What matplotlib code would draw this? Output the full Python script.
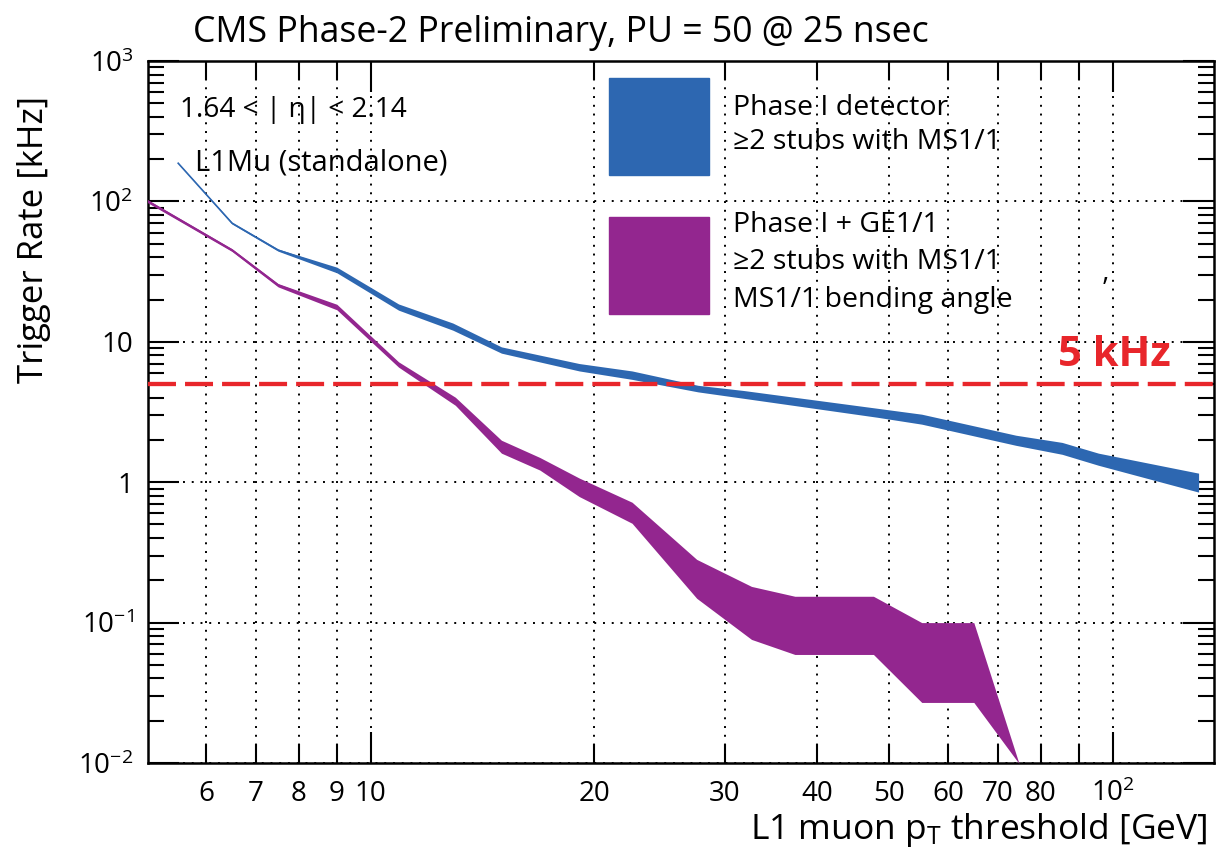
import numpy as np
import matplotlib
matplotlib.use('Agg')
import matplotlib.pyplot as plt
from matplotlib.patches import Rectangle
from matplotlib.ticker import FixedLocator, FixedFormatter, NullFormatter

plt.rcParams['font.family'] = ['Open Sans', 'DejaVu Sans']
plt.rcParams['mathtext.fontset'] = 'custom'
plt.rcParams['mathtext.rm'] = 'Open Sans'
plt.rcParams['mathtext.it'] = 'Open Sans:italic'
plt.rcParams['mathtext.default'] = 'regular'
plt.rcParams['axes.unicode_minus'] = False

# Phase I detector band (rate in kHz vs pT threshold)
blue_x = [5.5, 6.5, 7.5, 9.0, 10.9, 12.9, 15.0, 19.1, 22.5, 27.6, 31.8, 48.2, 55.3, 74.1, 85.5, 95.7, 130.6]
blue_hi = [188, 71, 45.8, 34.0, 18.6, 13.6, 9.2, 7.0, 6.2, 4.9, 4.5, 3.36, 3.05, 2.16, 1.92, 1.61, 1.16]
blue_lo = [186, 69, 44.2, 31.0, 16.8, 12.1, 8.3, 6.2, 5.4, 4.4, 3.96, 2.90, 2.59, 1.83, 1.58, 1.32, 0.85]

# Phase I + GE1/1 band
purple_x = [5.0, 6.5, 7.5, 9.0, 10.9, 13.0, 15.0, 16.9, 19.1, 22.5, 27.5, 32.6, 37.3, 47.6, 55.3, 65.0, 74.8]
purple_hi = [103, 46.0, 26.0, 18.5, 7.2, 4.03, 1.99, 1.50, 1.07, 0.72, 0.282, 0.181, 0.154, 0.154, 0.100, 0.100, 0.0099]
purple_lo = [98, 44.0, 24.6, 16.9, 6.6, 3.53, 1.61, 1.22, 0.79, 0.51, 0.149, 0.0759, 0.0593, 0.0593, 0.027, 0.027, 0.0099]

rate_limit = 5.0

x_ticks = [6, 7, 8, 9, 10, 20, 30, 40, 50, 60, 70, 80, 90, 100]
x_labels = ['6', '7', '8', '9', '10', '20', '30', '40', '50', '60', '70', '80', '', '$10^{2}$']
y_ticks = [0.01, 0.1, 1, 10, 100, 1000]
y_labels = ['$10^{-2}$', '$10^{-1}$', '1', '10', '$10^{2}$', '$10^{3}$']

blue = '#2d67b1'
purple = '#93268f'
red = '#e8262b'

W, H = 1217, 861
fig = plt.figure(figsize=(W / 100, H / 100), dpi=100)
ax = fig.add_axes([147.5 / W, 1 - 763 / H, (1214 - 147.5) / W, (763 - 61) / H])
ax.set_xscale('log')
ax.set_yscale('log')
ax.set_xlim(5, 137)
ax.set_ylim(0.01, 1000)

# bands
ax.fill_between(blue_x, blue_lo, blue_hi, color=blue, lw=0, zorder=3)
ax.plot(blue_x, np.sqrt(np.array(blue_lo) * np.array(blue_hi)), color=blue, lw=1.2, zorder=3)
ax.fill_between(purple_x, purple_lo, purple_hi, color=purple, lw=0, zorder=3)
ax.plot(purple_x[:5], np.sqrt(np.array(purple_lo) * np.array(purple_hi))[:5], color=purple, lw=1.4, zorder=3)

ax.axhline(rate_limit, color=red, lw=3.1, dashes=(6.5, 2.1), zorder=4)

# ticks / grid
ax.xaxis.set_major_locator(FixedLocator(x_ticks))
ax.xaxis.set_major_formatter(FixedFormatter(x_labels))
ax.xaxis.set_minor_formatter(NullFormatter())
ax.xaxis.set_minor_locator(FixedLocator([]))
ax.yaxis.set_major_locator(FixedLocator(y_ticks))
ax.yaxis.set_major_formatter(FixedFormatter(y_labels))
ax.yaxis.set_minor_locator(FixedLocator([v * m for v in [0.01, 0.1, 1, 10, 100] for m in range(2, 10)]))
ax.yaxis.set_minor_formatter(NullFormatter())

ax.tick_params(which='both', direction='in', top=True, right=True, width=1.5, colors='black')
ax.tick_params(axis='x', which='major', length=14, pad=12, labelsize=20)
for t, v in zip(ax.xaxis.get_major_ticks(), x_ticks):
    if v in (10, 100):
        t.tick1line.set_markersize(22)
        t.tick2line.set_markersize(22)
ax.tick_params(axis='y', which='major', length=22, pad=10, labelsize=20)
ax.tick_params(axis='y', which='minor', length=11.5)

ax.grid(True, axis='x', which='major', color='black', lw=1.4, ls=(0, (1, 3.5)))
ax.grid(True, axis='y', which='major', color='black', lw=1.4, ls=(0, (1, 3.5)))
for s in ax.spines.values():
    s.set_linewidth(1.8)


def fx(p):
    return p / W


def fy(p):
    return 1 - p / H


fig.text(fx(193), fy(33), 'CMS Phase-2 Preliminary, PU = 50 @ 25 nsec', fontsize=25.7, ha='left', va='center')
fig.text(fx(34), fy(240), 'Trigger Rate [kHz]', fontsize=25, rotation=90, ha='center', va='center')
fig.text(fx(1207), fy(830), 'L1 muon p$_\\mathrm{T}$ threshold [GeV]', fontsize=25.5, ha='right', va='center')

fig.text(fx(180), fy(110), '1.64 < | η| < 2.14', fontsize=20.2, ha='left', va='center')
fig.text(fx(195), fy(163), 'L1Mu (standalone)', fontsize=21, ha='left', va='center')
fig.text(fx(1058), fy(356), '5 kHz', fontsize=30, color=red, fontweight='bold', ha='left', va='center')
fig.text(fx(1103), fy(290), '’', fontsize=20, ha='left', va='center')

# legend
fig.add_artist(Rectangle((fx(609), fy(175)), fx(100), 97 / H, transform=fig.transFigure, color=blue, zorder=5))
fig.add_artist(Rectangle((fx(609), fy(314)), fx(100), 97 / H, transform=fig.transFigure, color=purple, zorder=5))
legend_lines = ['Phase I detector', '≥2 stubs with MS1/1', 'Phase I + GE1/1', '≥2 stubs with MS1/1', 'MS1/1 bending angle']
legend_y = [108, 142, 225, 262, 300]
for txt, yy in zip(legend_lines, legend_y):
    fig.text(fx(733), fy(yy), txt, fontsize=20.5, ha='left', va='center')

fig.savefig('out.png', dpi=100)
